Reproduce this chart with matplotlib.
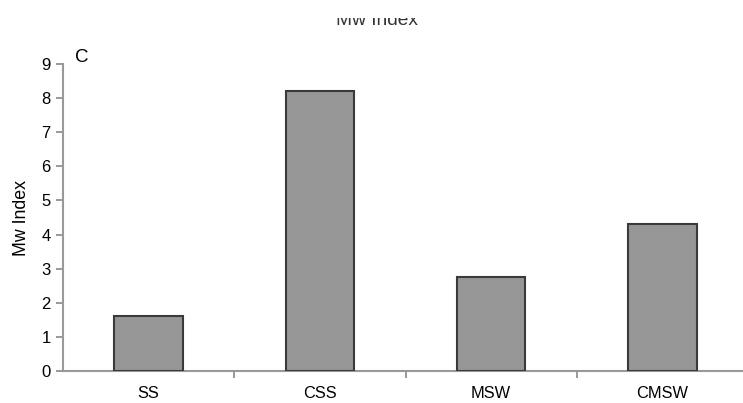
import matplotlib.pyplot as plt
from matplotlib.patches import Rectangle

plt.rcParams['font.family'] = ['Liberation Sans', 'DejaVu Sans']

# Mw index per treatment
categories = ["SS", "CSS", "MSW", "CMSW"]
mw_index = [1.6, 8.2, 2.75, 4.3]
y_ticks = [0, 1, 2, 3, 4, 5, 6, 7, 8, 9]

W, H = 743, 403
fig = plt.figure(figsize=(W / 100, H / 100), dpi=100)
# axes box in pixel units: left 63, bottom 371, top 64, right 748
ax = fig.add_axes([63 / W, (H - 371) / H, (748 - 63) / W, (371 - 64) / H])

xpos = list(range(len(categories)))
ax.bar(xpos, mw_index, width=0.4, color="#969696", edgecolor="#3a3a3a",
       linewidth=1.5, zorder=3)

ax.set_xlim(-0.5, len(categories) - 0.5)
ax.set_ylim(0, 9)
ax.set_yticks(y_ticks)

# category labels without ticks, separator ticks between categories
ax.set_xticks([i + 0.5 for i in xpos[:-1]])
ax.set_xticklabels([])
ax.set_xticks(xpos, minor=True)
ax.set_xticklabels(categories, minor=True, fontsize=11.8)
ax.tick_params(axis="x", which="minor", length=0, pad=11)
ax.tick_params(axis="x", which="major", length=5, color="#888888", width=1.2)
ax.tick_params(axis="y", length=5, color="#888888", width=1.2, labelsize=12, pad=4)

for side in ["top", "right"]:
    ax.spines[side].set_visible(False)
for side in ["left", "bottom"]:
    ax.spines[side].set_color("#999999")
    ax.spines[side].set_linewidth(1.5)

ax.set_ylabel("Mw Index", fontsize=12.8, labelpad=8)
fig.text(75 / W, 1 - 57 / H, "C", fontsize=13.5, va="center", ha="left")

# chart title, partly hidden along the top edge
fig.text(377 / W, 1 - 25 / H, "Mw Index", fontsize=13.8, color="#333333",
         ha="center", va="baseline")
fig.patches.append(Rectangle((0, 1 - 18 / H), 1, 18 / H, transform=fig.transFigure,
                             facecolor="white", edgecolor="none", zorder=10))

fig.savefig("out.png", dpi=100)
